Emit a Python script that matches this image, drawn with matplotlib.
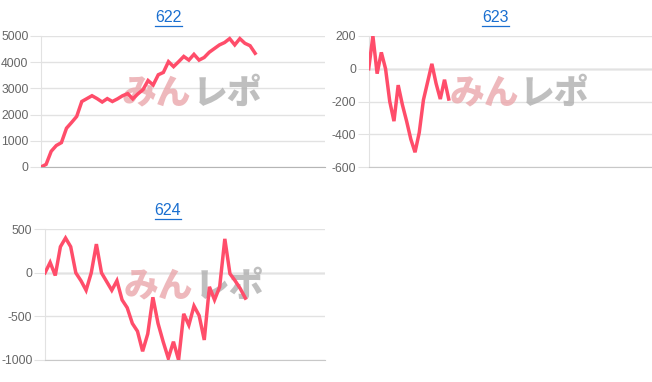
import matplotlib.pyplot as plt
from matplotlib.lines import Line2D

plt.rcParams['font.family'] = ['Liberation Sans', 'DejaVu Sans']

# 台番号ごとの差枚推移
names = ['622', '623', '624']

vals_622 = [0, 100, 600, 820, 930, 1480, 1700, 1930, 2500, 2610, 2720, 2610, 2480, 2610,
            2500, 2600, 2720, 2800, 2600, 2790, 2950, 3300, 3130, 3520, 3610, 4020, 3830,
            4020, 4220, 4080, 4300, 4080, 4180, 4380, 4520, 4660, 4750, 4900, 4660, 4900,
            4720, 4630, 4340]
vals_623 = [0, 200, -30, 100, 0, -200, -320, -100, -220, -320, -430, -510, -390, -190,
            -80, 30, -90, -185, -67, -185]
vals_624 = [0, 120, -30, 300, 400, 300, 0, -90, -200, 0, 330, 0, -100, -200, -90, -310,
            -400, -580, -670, -900, -700, -280, -580, -790, -980, -790, -1000, -470, -600,
            -380, -490, -770, -160, -310, -160, 390, -10, -90, -180, -290]

ylims = [(0, 5000), (-600, 200), (-1000, 500)]
ysteps = [1000, 200, 500]
xmax = [55.7, 67.2, 54.5]

W, H = 652, 382
fig = plt.figure(figsize=(W / 100, H / 100), dpi=100)

# 軸の位置 (px): left, top, right, bottom
boxes = [(41, 36, 325, 167), (368.7, 36, 651.7, 167), (45, 229.3, 325, 360)]
title_pos = [(168.5, 17.5), (495.7, 17.5), (168, 210.7)]

line_color = '#ff4d6a'
titles = []
for name, vals, yl, st, xm, box, tp in zip(names, [vals_622, vals_623, vals_624],
                                            ylims, ysteps, xmax, boxes, title_pos):
    l, t, r, b = box
    ax = fig.add_axes([l / W, 1 - b / H, (r - l) / W, (b - t) / H])
    ax.plot(range(len(vals)), vals, color=line_color, lw=2.5, zorder=3,
            solid_joinstyle='miter')
    ax.set_xlim(0, xm)
    ax.set_ylim(*yl)
    ticks = list(range(yl[0], yl[1] + 1, st))
    ax.set_yticks(ticks)
    ax.set_yticklabels([str(v) for v in ticks])
    ax.set_xticks([])
    ax.grid(axis='y', color='#e2e2e2', lw=1)
    if yl[0] < 0:
        ax.axhline(0, color='#b5b5b5', lw=1, zorder=1)
    for s in ['top', 'right']:
        ax.spines[s].set_visible(False)
    ax.spines['left'].set_color('#e2e2e2')
    ax.spines['bottom'].set_color('#c8c8c8' if yl[0] < 0 else '#b5b5b5')
    ax.tick_params(axis='y', length=8, color='#e2e2e2', labelcolor='#666666',
                   labelsize=8.7, pad=1)
    # 透かしロゴ
    ax.text(0.53, 0.565, 'みん', transform=ax.transAxes, ha='right', va='center',
            fontsize=25, fontweight='heavy', color='#eaa7ab', alpha=0.8,
            family=['Noto Sans CJK JP'], zorder=2)
    ax.text(0.535, 0.565, 'レポ', transform=ax.transAxes, ha='left', va='center',
            fontsize=25, fontweight='heavy', color='#b0b0b0', alpha=0.8,
            family=['Noto Sans CJK JP'], zorder=2)
    titles.append(fig.text(tp[0] / W, 1 - tp[1] / H, name, ha='center', va='center',
                           fontsize=11.5, color='#1a6fd0'))

# タイトルの下線
fig.canvas.draw()
rend = fig.canvas.get_renderer()
for tt in titles:
    bb = tt.get_window_extent(renderer=rend)
    y = bb.y0 - 0.5
    fig.add_artist(Line2D([bb.x0 / W, bb.x1 / W], [y / H, y / H],
                          color='#1a6fd0', lw=0.9, transform=fig.transFigure))

fig.savefig('out.png', dpi=100)
